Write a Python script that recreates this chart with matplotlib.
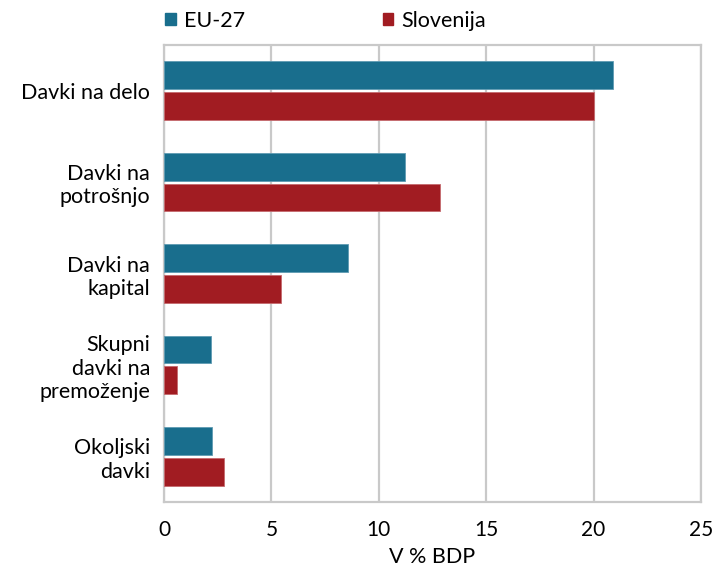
import numpy as np
import matplotlib.pyplot as plt
from matplotlib.patches import Patch

# data
categories = ['Davki na delo', 'Davki na\npotrošnjo', 'Davki na\nkapital',
              'Skupni\ndavki na\npremoženje', 'Okoljski\ndavki']
eu27 = [20.9, 11.2, 8.55, 2.2, 2.25]
slovenija = [20.0, 12.85, 5.45, 0.6, 2.8]
series_names = ['EU-27', 'Slovenija']
xticks = [0, 5, 10, 15, 20, 25]

blue = '#196e8d'
red = '#a11c22'
grid_col = '#c9c9c9'

plt.rcParams['font.family'] = ['Lato', 'DejaVu Sans']
fs = 15.5

fig = plt.figure(figsize=(7.12, 5.74), dpi=100)
ax = fig.add_axes([0.2303, 0.1254, 0.7543, 0.7962])

y = np.arange(len(categories))
h = 0.305
ax.barh(y - 0.168, eu27, height=h, color=blue, edgecolor='#5f9bb3', linewidth=0.6, zorder=3)
ax.barh(y + 0.168, slovenija, height=h, color=red, edgecolor='#c56a6e', linewidth=0.6, zorder=3)

ax.set_ylim(len(categories) - 0.5, -0.5)
ax.set_xlim(0, 25)
ax.set_xticks(xticks)
ax.set_yticks(y)
ax.set_yticklabels(categories, fontsize=fs, linespacing=1.2, ha='right')
ax.tick_params(axis='y', length=0, pad=10)
ax.tick_params(axis='x', length=0, pad=13, labelsize=15)
ax.xaxis.grid(True, color=grid_col, linewidth=1.6, zorder=0)
for s in ax.spines.values():
    s.set_color(grid_col)
    s.set_linewidth(1.6)
ax.set_xlabel('V % BDP', fontsize=fs, labelpad=5)

handles = [Patch(color=blue), Patch(color=red)]
fig.legend(handles, series_names, loc='upper left', bbox_to_anchor=(0.205, 1.015),
           ncol=2, frameon=False, fontsize=fs, handlelength=0.5, handleheight=0.5,
           handletextpad=0.35, columnspacing=6.4)

fig.savefig('out.png', dpi=100)
